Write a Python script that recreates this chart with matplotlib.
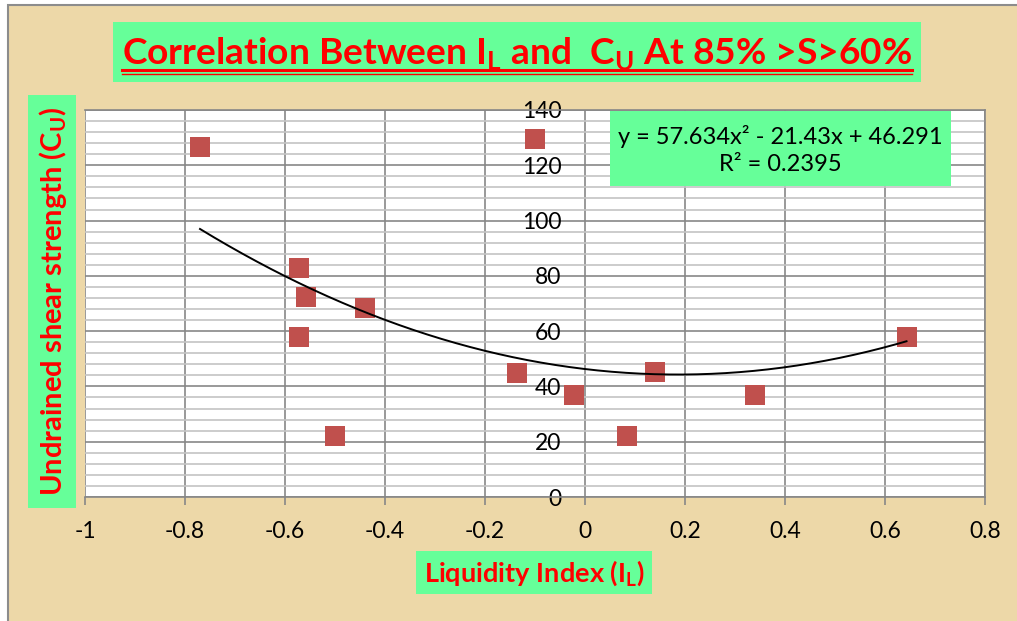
import numpy as np
import matplotlib
matplotlib.use('Agg')
import matplotlib.pyplot as plt
from matplotlib.patches import Rectangle
from matplotlib.lines import Line2D
from matplotlib.ticker import MultipleLocator, FuncFormatter

# data
liquidity_index = [-0.77, -0.10, -0.573, -0.559, -0.441, -0.573, -0.501,
                   -0.137, -0.022, 0.084, 0.140, 0.340, 0.643]
shear_strength = [126.7, 129.4, 82.7, 72.5, 68.3, 57.8, 22.1,
                  44.8, 36.9, 22.1, 45.2, 36.9, 57.8]
fit_coeffs = [57.634, -21.43, 46.291]
r_squared = 0.2395

title = r'Correlation Between I$_\mathregular{L}$ and  C$_\mathregular{U}$ At 85% >S>60%'
xlabel = r'Liquidity Index (I$_\mathregular{L}$)'
ylabel = r'Undrained shear strength (C$_\mathregular{U}$)'

W, H = 1017, 621
plt.rcParams['font.family'] = ['Lato', 'DejaVu Sans']

fig = plt.figure(figsize=(W / 100, H / 100), dpi=100)
fig.patch.set_facecolor('white')


def px_box(x0, y0, x1, y1, **kw):
  # rectangle given in pixel coords (origin top-left)
  r = Rectangle((x0 / W, 1 - y1 / H), (x1 - x0) / W, (y1 - y0) / H,
                transform=fig.transFigure, **kw)
  fig.patches.append(r)
  return r


parchment = '#EDD8A8'
green = '#66FF99'
px_box(8, 5, W + 5, H + 5, facecolor=parchment, edgecolor='#8C8C8C', lw=1.5,
       zorder=-10)

ax = fig.add_axes([85 / W, 1 - 497 / H, 900 / W, 387 / H])
ax.set_facecolor('white')
ax.set_xlim(-1, 0.8)
ax.set_ylim(0, 140)
ax.xaxis.set_major_locator(MultipleLocator(0.2))
ax.yaxis.set_major_locator(MultipleLocator(20))
ax.yaxis.set_minor_locator(MultipleLocator(4))


def fmt(v, _):
  s = f'{v:.1f}'.rstrip('0').rstrip('.')
  return '0' if s in ('-0', '0') else s


ax.xaxis.set_major_formatter(FuncFormatter(fmt))
ax.grid(True, which='major', color='#878787', lw=1.2)
ax.grid(True, which='minor', axis='y', color='#C4C4C4', lw=1.2)
ax.set_axisbelow(True)

for s in ['top', 'right', 'bottom']:
  ax.spines[s].set_color('#878787')
  ax.spines[s].set_linewidth(1.2)
ax.spines['left'].set_position(('data', 0))
ax.spines['left'].set_visible(False)

ax.tick_params(axis='x', direction='out', length=6, width=1.2,
               color='#878787', pad=11, labelsize=16.5)
ax.tick_params(axis='y', which='both', length=0, pad=17, labelsize=16.5)

ax.scatter(liquidity_index, shear_strength, marker='s', s=14.4 ** 2,
           color='#C0504D', zorder=3, linewidths=0)

xs = np.linspace(min(liquidity_index), max(liquidity_index), 200)
ax.plot(xs, np.polyval(fit_coeffs, xs), color='black', lw=1.4, zorder=4)

# equation box
px_box(610, 111, 951, 186, facecolor=green, edgecolor='none', zorder=5)
eq = f'y = {fit_coeffs[0]}x² - {abs(fit_coeffs[1])}x + {fit_coeffs[2]}\nR² = {r_squared}'
fig.text(780 / W, 1 - 150 / H, eq, ha='center', va='center', fontsize=17,
         linespacing=1.3, zorder=6)

# title
px_box(113, 22, 921, 82, facecolor=green, edgecolor='none')
t = fig.text(517 / W, 1 - 65 / H, title, ha='center', va='baseline',
             fontsize=26.7, fontweight='bold', color='red')

# y label
px_box(28, 95, 76, 508, facecolor=green, edgecolor='none')
fig.text(53 / W, 1 - 301 / H, ylabel, rotation=90, ha='center', va='center',
         fontsize=21, fontweight='bold', color='red')

# x label
px_box(416, 551, 652, 594, facecolor=green, edgecolor='none')
fig.text(534 / W, 1 - 573 / H, xlabel, ha='center', va='center',
         fontsize=19.5, fontweight='bold', color='red')

# double underline under the title
fig.canvas.draw()
bb = t.get_window_extent()
x0, x1 = bb.x0 / W, bb.x1 / W
for ypx, lw in [(70, 2.2), (73.5, 1.0)]:
  fig.lines.append(Line2D([x0, x1], [1 - ypx / H] * 2, transform=fig.transFigure,
                          color='red', lw=lw))

fig.savefig('out.png', dpi=100)
